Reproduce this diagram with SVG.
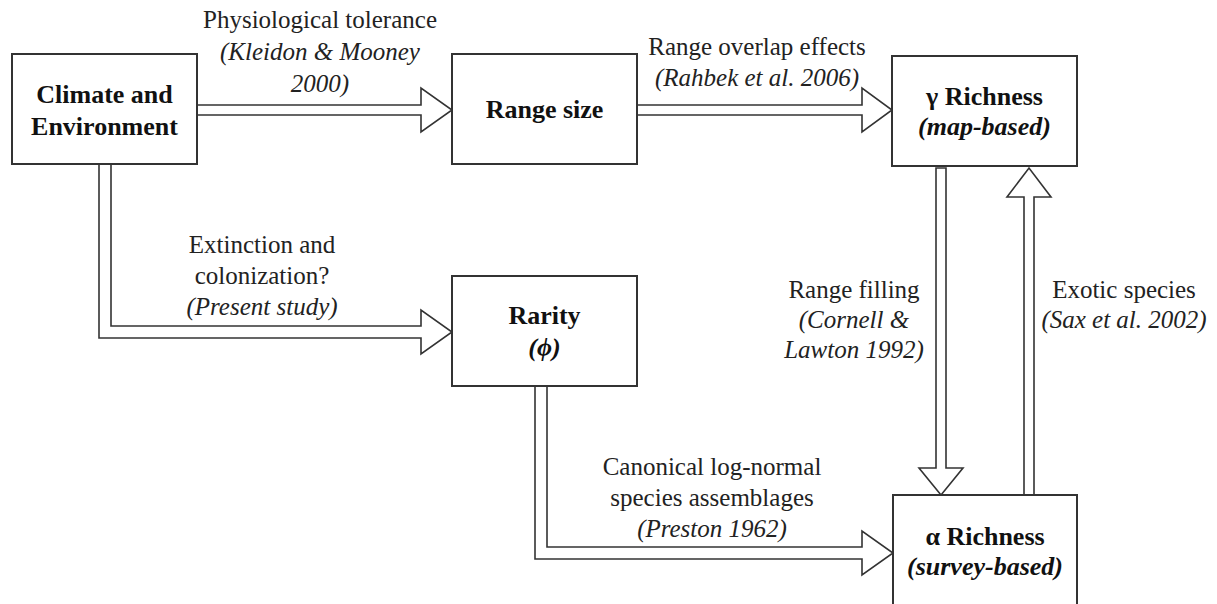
<svg xmlns="http://www.w3.org/2000/svg" width="1217" height="604" viewBox="0 0 1217 604">
<style>
.box{fill:#fff;stroke:#333;stroke-width:2}
.arr{fill:#fff;stroke:#333;stroke-width:1.6;stroke-linejoin:miter}
</style>
<rect width="1217" height="604" fill="#fff"/>
<g id="connectors">
<polygon class="arr" points="197,105 421,105 421,88 452,110 421,132 421,115 197,115"/>
<polygon class="arr" points="637,105 862,105 862,88 892,110 862,132 862,115 637,115"/>
<polygon class="arr" points="99,164 99,338 421,338 421,354 452,332 421,310 421,326 111,326 111,164"/>
<polygon class="arr" points="535,386 535,559 862,559 862,575 893,553 862,531 862,547 547,547 547,386"/>
<polygon class="arr" points="936,168 946,168 946,468 963,468 941,495 919,468 936,468"/>
<polygon class="arr" points="1024,495 1024,197 1007,197 1029,168 1051,197 1034,197 1034,495"/>
</g>
<g id="labels" font-family="Liberation Serif" font-size="25" fill="#222" text-anchor="middle">
<text x="320" y="28" font-family="Liberation Serif" font-size="25">Physiological tolerance</text>
<text x="320" y="60" font-family="Liberation Serif" font-size="25" font-style="italic">(Kleidon &amp; Mooney</text>
<text x="320" y="92" font-family="Liberation Serif" font-size="25" font-style="italic">2000)</text>
<text x="757" y="55" font-family="Liberation Serif" font-size="25">Range overlap effects</text>
<text x="757" y="86" font-family="Liberation Serif" font-size="25" font-style="italic">(Rahbek et al. 2006)</text>
<text x="262" y="253" font-family="Liberation Serif" font-size="25">Extinction and</text>
<text x="262" y="284" font-family="Liberation Serif" font-size="25">colonization?</text>
<text x="262" y="315" font-family="Liberation Serif" font-size="25" font-style="italic">(Present study)</text>
<text x="712" y="475" font-family="Liberation Serif" font-size="25">Canonical log-normal</text>
<text x="712" y="506" font-family="Liberation Serif" font-size="25">species assemblages</text>
<text x="712" y="537" font-family="Liberation Serif" font-size="25" font-style="italic">(Preston 1962)</text>
<text x="854" y="298" font-family="Liberation Serif" font-size="25">Range filling</text>
<text x="854" y="328" font-family="Liberation Serif" font-size="25" font-style="italic">(Cornell &amp;</text>
<text x="854" y="358" font-family="Liberation Serif" font-size="25" font-style="italic">Lawton 1992)</text>
<text x="1124" y="298" font-family="Liberation Serif" font-size="25">Exotic species</text>
<text x="1124" y="328" font-family="Liberation Serif" font-size="25" font-style="italic">(Sax et al. 2002)</text>
</g>
<g id="climate" font-family="Liberation Serif" font-size="26" font-weight="bold" fill="#111" text-anchor="middle">
<rect class="box" x="12" y="54" width="185" height="110"/>
<text x="104.5" y="103" font-family="Liberation Serif" font-weight="bold">Climate and</text>
<text x="104.5" y="135" font-family="Liberation Serif" font-weight="bold">Environment</text>
</g>
<g id="range" font-family="Liberation Serif" font-size="26" font-weight="bold" fill="#111" text-anchor="middle">
<rect class="box" x="452" y="54" width="185" height="110"/>
<text x="544.5" y="118" font-family="Liberation Serif" font-weight="bold">Range size</text>
</g>
<g id="gamma" font-family="Liberation Serif" font-size="26" font-weight="bold" fill="#111" text-anchor="middle">
<rect class="box" x="892" y="56" width="185" height="110"/>
<text x="984.5" y="105" font-family="Liberation Serif" font-weight="bold">γ Richness</text>
<text x="984.5" y="135" font-family="Liberation Serif" font-weight="bold" font-style="italic">(map-based)</text>
</g>
<g id="rarity" font-family="Liberation Serif" font-size="26" font-weight="bold" fill="#111" text-anchor="middle">
<rect class="box" x="452" y="276" width="185" height="110"/>
<text x="544.5" y="324" font-family="Liberation Serif" font-weight="bold">Rarity</text>
<text x="544.5" y="356" font-family="Liberation Serif" font-weight="bold" font-style="italic">(ϕ)</text>
</g>
<g id="alpha" font-family="Liberation Serif" font-size="26" font-weight="bold" fill="#111" text-anchor="middle">
<rect class="box" x="893" y="495" width="184" height="120"/>
<text x="985" y="545" font-family="Liberation Serif" font-weight="bold">α Richness</text>
<text x="985" y="575" font-family="Liberation Serif" font-weight="bold" font-style="italic">(survey-based)</text>
</g>
</svg>
